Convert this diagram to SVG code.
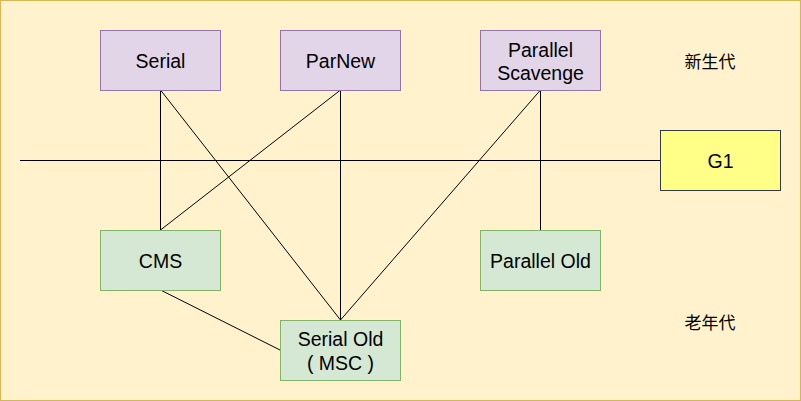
<svg xmlns="http://www.w3.org/2000/svg" width="801" height="401" viewBox="0 0 801 401">
<style>
.bg{fill:#fff2cc;stroke:#d6b656;stroke-width:1}
.young{fill:#e1d5e7;stroke:#9673a6;stroke-width:1}
.old{fill:#d5e8d4;stroke:#82b366;stroke-width:1}
.g1{fill:#ffff88;stroke:#36393d;stroke-width:1}
.t{font-family:"Liberation Sans","Noto Sans CJK SC",sans-serif;font-size:19.5px;fill:#000;text-anchor:middle;dominant-baseline:central}
.cjk{font-family:"Noto Sans CJK SC",sans-serif;font-size:17px;fill:#000;text-anchor:middle;dominant-baseline:central}
.e{stroke:#000;stroke-width:1;fill:none}
</style>
<rect class="bg" x="0.5" y="0.5" width="800" height="400"/>
<g id="connectors">
<line class="e" x1="20" y1="160.5" x2="660" y2="160.5"/>
<line class="e" x1="160.5" y1="90" x2="160.5" y2="230"/>
<line class="e" x1="160.5" y1="90" x2="340.5" y2="320"/>
<line class="e" x1="340.5" y1="90" x2="160.5" y2="230"/>
<line class="e" x1="340.5" y1="90" x2="340.5" y2="320"/>
<line class="e" x1="540.5" y1="90" x2="340.5" y2="320"/>
<line class="e" x1="540.5" y1="90" x2="540.5" y2="230"/>
<line class="e" x1="160.5" y1="290" x2="280" y2="350"/>
</g>
<g id="serial"><rect class="young" x="100.5" y="30.5" width="120" height="60"/><text class="t" x="160.5" y="60.5">Serial</text></g>
<g id="parnew"><rect class="young" x="280.5" y="30.5" width="120" height="60"/><text class="t" x="340.5" y="60.5">ParNew</text></g>
<g id="parallel-scavenge"><rect class="young" x="480.5" y="30.5" width="120" height="60"/><text class="t" x="540.5" y="49.5">Parallel</text><text class="t" x="540.5" y="72.5">Scavenge</text></g>
<g id="g1"><rect class="g1" x="660.5" y="130.5" width="120" height="60"/><text class="t" x="720.5" y="160.5">G1</text></g>
<g id="cms"><rect class="old" x="100.5" y="230.5" width="120" height="60"/><text class="t" x="160.5" y="260.5">CMS</text></g>
<g id="parallel-old"><rect class="old" x="480.5" y="230.5" width="120" height="60"/><text class="t" x="540.5" y="260.5">Parallel Old</text></g>
<g id="serial-old"><rect class="old" x="280.5" y="320.5" width="120" height="60"/><text class="t" x="340.5" y="338.5">Serial Old</text><text class="t" x="340.5" y="362.5">( MSC )</text></g>
<g id="label-young"><text class="cjk" x="710" y="60.5">新生代</text></g>
<g id="label-old"><text class="cjk" x="710" y="321">老年代</text></g>
</svg>
